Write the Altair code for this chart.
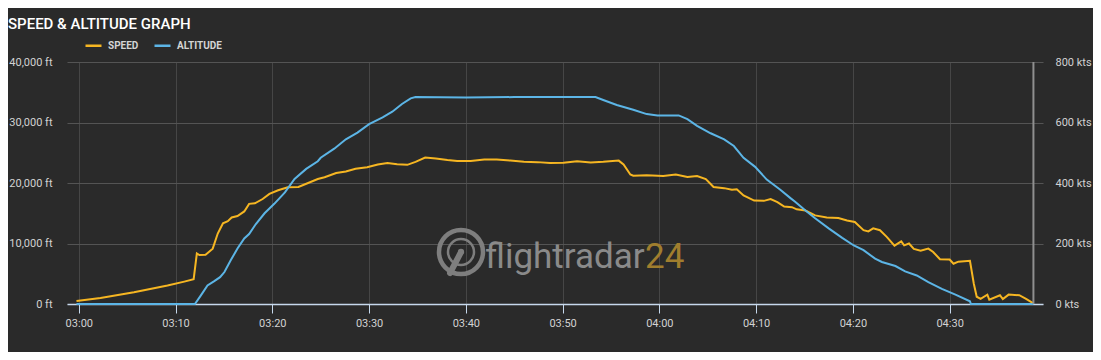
import altair as alt
import pandas as pd

# minutes after 03:00
speed_t = [-0.24, 2.24, 5.7, 9.17, 10.9, 11.87, 12.2, 12.46, 13.1, 13.84, 14.36, 14.9, 15.4, 15.8,
           16.4, 17.1, 17.6, 18.2, 19.0, 19.7, 20.6, 21.6, 22.7, 23.7, 24.7, 25.4, 26.6, 27.6, 28.6,
           29.8, 30.9, 31.9, 32.9, 33.95, 34.8, 35.8, 36.9, 38.1, 39.1, 40.5, 41.9, 43.2, 44.6, 46.0,
           47.4, 48.7, 50.1, 51.5, 52.9, 54.2, 55.8, 56.3, 57.0, 57.3, 58.7, 60.4, 61.7, 62.9, 63.9,
           64.8, 65.6, 66.7, 67.5, 68.0, 68.7, 69.8, 70.8, 71.5, 72.2, 72.9, 73.7, 74.2, 75.1, 76.1,
           77.3, 78.5, 79.4, 80.2, 81.1, 81.6, 82.1, 82.8, 83.5, 84.3, 85.0, 85.3, 85.8, 86.3, 87.0,
           87.8, 88.3, 89.0, 90.0, 90.4, 90.9, 92.1, 92.5, 92.8, 93.2, 93.9, 94.1, 95.2, 95.5, 96.1,
           97.2, 97.9, 98.66]
speed_kts = [10, 20, 39, 61, 74, 82, 167, 162, 163, 183, 233, 267, 274, 286,
             291, 306, 331, 333, 347, 364, 376, 386, 387, 400, 413, 419, 433, 438, 447,
             452, 461, 466, 462, 460, 470, 484, 481, 476, 473, 473, 478, 478, 474, 470,
             469, 466, 467, 472, 468, 470, 474, 461, 428, 424, 426, 423, 428, 420, 423,
             413, 387, 383, 378, 379, 359, 342, 341, 347, 337, 322, 320, 313, 309, 293,
             286, 284, 276, 271, 244, 240, 250, 244, 222, 193, 207, 194, 200, 182, 176,
             183, 172, 148, 147, 133, 140, 143, 67, 24, 17, 31, 14, 29, 16, 31,
             29, 17, 2]

alt_t = [-0.24, 12.0, 12.6, 13.3, 14.0, 14.6, 15.05, 15.7, 16.4, 17.1, 17.6, 18.3, 19.2, 20.2,
         21.3, 22.3, 23.5, 24.7, 25.0, 26.4, 27.6, 28.8, 30.0, 31.4, 32.4, 33.4, 34.3, 34.8, 40.0,
         45.0, 50.8, 53.4, 54.2, 55.6, 57.3, 58.7, 59.8, 62.0, 62.9, 63.9, 65.3, 66.7, 67.7, 68.7,
         69.9, 71.1, 72.5, 73.55, 74.0, 75.1, 76.1, 77.5, 78.9, 80.1, 81.1, 82.3, 83.0, 84.4, 85.4,
         86.6, 87.8, 89.2, 90.6, 92.1, 92.2, 98.66]
alt_ft = [0, 0, 1390, 3060, 3780, 4440, 5280, 7220, 9170, 10830, 11560, 13220, 15000, 16560,
          18440, 20670, 22330, 23600, 24170, 25670, 27220, 28330, 29720, 30830, 31780, 33060, 34000, 34220, 34150,
          34200, 34220, 34220, 33720, 32890, 32110, 31390, 31170, 31170, 30560, 29440, 28220, 27220, 26110, 24170,
          22670, 20560, 18890, 17500, 16940, 15440, 14170, 12500, 10940, 9670, 8890, 7500, 6940, 6280, 5390,
          4720, 3610, 2500, 1560, 440, 0, 0]

x_ticks = [0, 10, 20, 30, 40, 50, 60, 70, 80, 90]
alt_ticks = [0, 10000, 20000, 30000, 40000]
speed_ticks = [0, 200, 400, 600, 800]
series_names = ["SPEED", "ALTITUDE"]
series_colors = ["#f6b622", "#5cb5e6"]

W, H = 976, 242
FONT = "Roboto"
XDOM = [-1.22, 99.65]

speed_df = pd.DataFrame({"t": speed_t, "v": speed_kts, "series": "SPEED"})
alt_df = pd.DataFrame({"t": alt_t, "v": alt_ft, "series": "ALTITUDE"})
end_df = pd.DataFrame({"t": [speed_t[-1]]})
one = pd.DataFrame({"a": [0]})

xlabel = ("pad(floor((180 + datum.value) / 60), 2, '0', 'left') + ':' + "
          "pad((180 + datum.value) % 60, 2, '0', 'left')")

x_enc = alt.X("t:Q", scale=alt.Scale(domain=XDOM, nice=False, zero=False),
              axis=alt.Axis(values=x_ticks, labelExpr=xlabel, title=None, grid=True,
                            gridColor="#464646", domainColor="#c6d8ec", domainWidth=1.5,
                            tickColor="#c6d8ec", tickSize=9, labelPadding=4,
                            labelFont=FONT, labelFontSize=11, labelColor="#d2d2d2"))

color_enc = alt.Color("series:N",
                      scale=alt.Scale(domain=series_names, range=series_colors),
                      legend=alt.Legend(title=None, orient="none", legendX=17, legendY=-26,
                                        direction="horizontal", symbolType="stroke",
                                        symbolSize=256, symbolStrokeWidth=2.5,
                                        labelFont=FONT, labelFontSize=10, labelFontWeight="bold",
                                        labelColor="#d4d4d4", labelOffset=5, columnPadding=10,
                                        padding=0))

speed_line = alt.Chart(speed_df).mark_line(strokeWidth=2, interpolate="linear").encode(
    x=x_enc,
    y=alt.Y("v:Q", scale=alt.Scale(domain=[0, 800], nice=False),
            axis=alt.Axis(orient="right", values=speed_ticks, labelExpr="datum.value + ' kts'",
                          title=None, grid=False, domain=False, ticks=False, labelPadding=12,
                          labelFont=FONT, labelFontSize=11, labelColor="#d2d2d2")),
    color=color_enc,
)

alt_line = alt.Chart(alt_df).mark_line(strokeWidth=2, interpolate="linear").encode(
    x=x_enc,
    y=alt.Y("v:Q", scale=alt.Scale(domain=[0, 40000], nice=False),
            axis=alt.Axis(orient="left", values=alt_ticks,
                          labelExpr="format(datum.value, ',') + ' ft'",
                          title=None, grid=True, gridColor="#545454", domain=False, ticks=False,
                          labelPadding=15, labelFont=FONT, labelFontSize=11,
                          labelColor="#d2d2d2")),
    color=color_enc,
)

end_rule = alt.Chart(end_df).mark_rule(color="#8f8f8f", strokeWidth=2).encode(
    x="t:Q", y=alt.value(0), y2=alt.value(H))

# watermark
wm_col = "#7e7e7e"
ring1 = alt.Chart(one).mark_point(shape="circle", filled=False, size=44 * 44, strokeWidth=4.5,
                                  color=wm_col, opacity=1).encode(x=alt.value(394), y=alt.value(190))
ring2 = alt.Chart(one).mark_point(shape="circle", filled=False, size=26 * 26, strokeWidth=2.5,
                                  color=wm_col, opacity=1).encode(x=alt.value(394), y=alt.value(190))
dot = alt.Chart(one).mark_point(shape="circle", filled=True, size=40,
                                color=wm_col, opacity=1).encode(x=alt.value(394), y=alt.value(190))
sweep = alt.Chart(one).mark_rule(color=wm_col, strokeWidth=6, strokeCap="round").encode(
    x=alt.value(393), y=alt.value(192), x2=alt.value(383), y2=alt.value(211))
wm_text = alt.Chart(one).mark_text(text="flightradar", font=FONT, fontSize=35, align="left",
                                   baseline="alphabetic", color="#8a8a8a").encode(
    x=alt.value(418), y=alt.value(206))
wm_24 = alt.Chart(one).mark_text(text="24", font=FONT, fontSize=35, align="left",
                                 baseline="alphabetic", color="#a07e2e").encode(
    x=alt.value(578), y=alt.value(206))

title = alt.Chart(one).mark_text(text="SPEED & ALTITUDE GRAPH", font=FONT, fontSize=15,
                                 fontWeight=500, align="left", baseline="alphabetic",
                                 color="#ffffff").encode(x=alt.value(-59), y=alt.value(-33))

chart = alt.layer(ring1, ring2, dot, sweep, wm_text, wm_24, title, speed_line, alt_line, end_rule
                  ).resolve_scale(y="independent").properties(
    width=W, height=H,
    autosize=alt.AutoSizeParams(type="none"),
    padding={"left": 59, "top": 54, "right": 50, "bottom": 48},
    background="#2a2a2a",
).configure_view(stroke=None)

chart.save("out.html", embed_options={"renderer": "svg", "actions": False})
